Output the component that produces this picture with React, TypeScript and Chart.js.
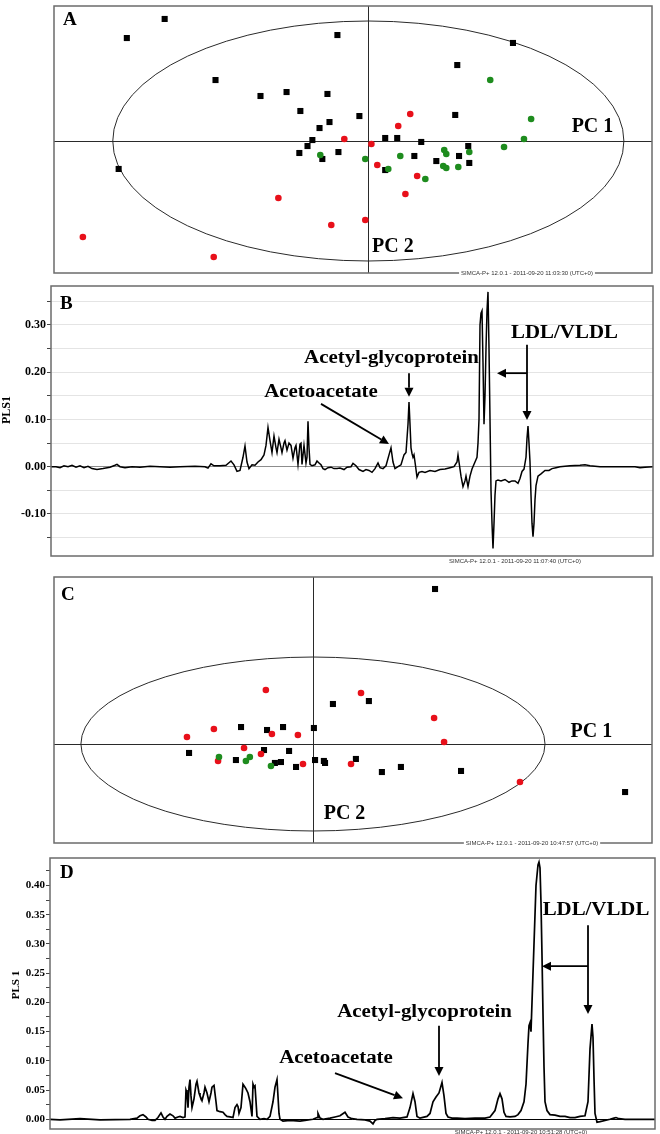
import React, { useEffect, useRef } from "react";
import { Chart, registerables } from "chart.js";

Chart.register(...registerables);

const SERIF = '"Liberation Serif", "Times New Roman", Times, serif';
const SANS = '"Liberation Sans", Arial, sans-serif';

const BLACK = "#000000";
const RED = "#e8101a";
const GREEN = "#1e8c1e";

// ---------------- Panel A : PLS scores t[1] / t[2] ----------------
const A_CLASS_1: [number, number][] = [
  [-7.97, 10.17], [-9.45, 8.58], [-1.21, 8.83], [5.66, 8.17], [3.48, 6.33], [-5.98, 5.08],
  [-4.22, 3.75], [-3.2, 4.08], [-1.6, 3.92], [-2.66, 2.5], [-1.52, 1.58], [-0.35, 2.08],
  [3.4, 2.17], [-1.91, 1.08], [-2.19, 0.08], [-2.38, -0.42], [-2.7, -1.0], [-1.8, -1.5],
  [0.66, 0.25], [1.13, 0.25], [2.07, -0.08], [-1.17, -0.92], [3.91, -0.42], [1.8, -1.25],
  [3.55, -1.25], [2.66, -1.67], [3.95, -1.83], [0.66, -2.42], [-9.77, -2.33],
];
const A_CLASS_2: [number, number][] = [
  [1.64, 2.25], [1.17, 1.25], [-0.94, 0.17], [0.12, -0.25], [0.35, -2.0], [1.91, -2.92],
  [1.45, -4.42], [-0.12, -6.58], [-1.45, -7.0], [-3.52, -4.75], [-11.17, -8.0], [-6.05, -9.67],
];
const A_CLASS_3: [number, number][] = [
  [4.77, 5.08], [6.37, 1.83], [6.09, 0.17], [5.31, -0.5], [2.97, -0.75], [3.05, -1.08],
  [3.95, -0.92], [1.25, -1.25], [-0.12, -1.5], [-1.88, -1.17], [0.78, -2.33], [2.23, -3.17],
  [2.93, -2.08], [3.05, -2.25], [3.52, -2.17],
];
const A_T1_RANGE = [-12.3, 11.1];
const A_T2_RANGE = [-11, 11.25];
const A_ELLIPSE = [10, 10];
const A_PC1_POS = [8.77, 1.17];
const A_PC2_POS = [0.96, -8.83];
const A_STAMP = "SIMCA-P+ 12.0.1 - 2011-09-20 11:03:30 (UTC+0)";

// ---------------- Panel B : PLS1 loadings (ppm) ----------------
const B_PPM = [
  5.61, 5.56, 5.52, 5.48, 5.44, 5.4, 5.36, 5.32, 5.28, 5.24, 5.2, 5.15, 5.09, 5.02, 4.97, 4.95,
  4.92, 4.87, 4.8, 4.72, 4.62, 4.52, 4.42, 4.32, 4.17, 4.07, 4.04, 4.01, 3.98, 3.92, 3.86, 3.81,
  3.78, 3.75, 3.72, 3.69, 3.67, 3.65, 3.63, 3.6, 3.57, 3.54, 3.51, 3.48, 3.46, 3.44, 3.42, 3.4,
  3.38, 3.36, 3.35, 3.33, 3.31, 3.3, 3.28, 3.27, 3.25, 3.23, 3.21, 3.19, 3.17, 3.16, 3.14, 3.12,
  3.11, 3.1, 3.08, 3.06, 3.05, 3.04, 3.03, 3.02, 3.0, 2.97, 2.95, 2.93, 2.91, 2.89, 2.87, 2.84,
  2.81, 2.78, 2.75, 2.72, 2.68, 2.65, 2.61, 2.59, 2.56, 2.53, 2.49, 2.46, 2.43, 2.4, 2.37, 2.34,
  2.32, 2.29, 2.26, 2.23, 2.21, 2.19, 2.17, 2.14, 2.11, 2.08, 2.06, 2.04, 2.03, 2.02, 2.01, 2.0,
  1.99, 1.98, 1.97, 1.95, 1.93, 1.9, 1.87, 1.82, 1.77, 1.72, 1.67, 1.62, 1.58, 1.55, 1.54, 1.53,
  1.51, 1.49, 1.47, 1.46, 1.44, 1.42, 1.4, 1.37, 1.35, 1.34, 1.33, 1.32, 1.31, 1.3, 1.29, 1.28,
  1.27, 1.26, 1.25, 1.24, 1.23, 1.22, 1.21, 1.2, 1.19, 1.18, 1.17, 1.16, 1.14, 1.11, 1.07, 1.03,
  1.0, 0.97, 0.94, 0.92, 0.9, 0.88, 0.86, 0.85, 0.84, 0.83, 0.82, 0.81, 0.8, 0.79, 0.78, 0.77,
  0.76, 0.74, 0.71, 0.67, 0.63, 0.6, 0.56, 0.52, 0.42, 0.32, 0.27, 0.22, 0.12, -0.08, -0.23, -0.28,
  -0.33, -0.41,
];
const B_PLS1 = [
  0.0, 0.0, -0.002, 0.002, 0.0, 0.003, -0.001, 0.002, -0.002, 0.001, -0.004, -0.006, -0.004, -0.001, 0.003, 0.005,
  0.0, -0.002, 0.0, -0.001, 0.001, 0.0, -0.001, 0.0, 0.001, 0.0, -0.003, 0.006, 0.002, 0.002, 0.003, 0.012,
  0.004, -0.01, -0.008, 0.02, 0.044, 0.01, -0.004, 0.004, 0.003, 0.01, 0.015, 0.025, 0.045, 0.083, 0.055, 0.03,
  0.065, 0.04, 0.03, 0.058, 0.04, 0.03, 0.05, 0.055, 0.035, 0.05, 0.045, 0.018, 0.04, 0.045, 0.005, 0.048,
  0.05, 0.005, 0.045, 0.008, 0.02, 0.096, 0.04, 0.005, 0.002, 0.004, 0.012, 0.008, 0.004, -0.004, -0.006, -0.002,
  -0.001, -0.004, -0.004, -0.003, -0.006, -0.001, 0.0, 0.007, 0.002, -0.006, -0.01, -0.006, -0.008, -0.012, -0.004, 0.008,
  -0.002, -0.004, 0.002, 0.025, 0.04, 0.01, -0.004, 0.0, 0.004, 0.025, 0.03, 0.09, 0.137, 0.09, 0.04, 0.028,
  0.02, 0.025, 0.01, -0.022, -0.012, -0.01, -0.012, -0.008, -0.01, -0.006, -0.005, -0.002, 0.0, 0.01, 0.025, 0.01,
  -0.02, -0.042, -0.03, -0.02, -0.042, -0.02, -0.005, 0.01, 0.02, 0.05, 0.1, 0.3, 0.325, 0.33, 0.22, 0.09,
  0.15, 0.25, 0.33, 0.37, 0.25, 0.1, -0.05, -0.12, -0.173, -0.12, -0.06, -0.03, -0.028, -0.03, -0.027, -0.033,
  -0.03, -0.03, -0.035, -0.025, -0.01, -0.005, 0.02, 0.06, 0.086, 0.05, 0.01, -0.06, -0.12, -0.148, -0.12, -0.07,
  -0.04, -0.02, -0.015, -0.008, -0.008, -0.004, -0.002, 0.0, 0.002, 0.003, 0.004, 0.002, 0.0, 0.0, 0.0, -0.002,
  -0.001, 0.0,
];
const B_PPM_RANGE = [-0.41, 5.61];
const B_Y_RANGE = [-0.189, 0.3825];
const B_LABELS: { text: string; x: number; y: number }[] = [
  { text: "Acetyl-glycoprotein", x: 2.205, y: 0.23 },
  { text: "Acetoacetate", x: 2.91, y: 0.158 },
  { text: "LDL/VLDL", x: 0.475, y: 0.283 },
];
const B_ARROWS: number[][] = [
  [2.91, 0.133, 2.23, 0.048],
  [2.03, 0.198, 2.03, 0.148],
  [0.85, 0.258, 0.85, 0.099],
  [0.85, 0.198, 1.15, 0.198],
];
const B_STAMP = "SIMCA-P+ 12.0.1 - 2011-09-20 11:07:40 (UTC+0)";

// ---------------- Panel C : PLS scores t[1] / t[2] ----------------
const C_CLASS_1: [number, number][] = [
  [-3.1, 1.95], [-1.98, 1.61], [-1.29, 1.95], [0.04, 1.84], [-5.34, -1.03], [-3.32, -1.84],
  [-2.11, -0.69], [-1.03, -0.8], [-1.64, -2.18], [-1.38, -2.07], [-0.73, -2.64], [0.09, -1.84],
  [0.47, -1.95], [0.52, -2.18], [5.26, 17.82], [0.86, 4.6], [2.41, 4.94], [1.85, -1.72],
  [2.97, -3.22], [3.79, -2.64], [6.38, -3.1], [13.45, -5.52],
];
const C_CLASS_2: [number, number][] = [
  [-2.03, 6.21], [-4.27, 1.72], [-5.43, 0.8], [-1.77, 1.15], [-0.65, 1.03], [-2.97, -0.46],
  [-2.24, -1.15], [-4.09, -1.95], [-0.43, -2.3], [2.07, 5.86], [5.22, 2.99], [5.65, 0.23],
  [1.64, -2.3], [8.92, -4.37],
];
const C_CLASS_3: [number, number][] = [
  [-4.05, -1.49], [-2.89, -1.95], [-2.72, -1.49], [-1.81, -2.53],
];
const C_T1_RANGE = [-11.16, 14.61];
const C_T2_RANGE = [-11.38, 19.2];
const C_ELLIPSE = [10, 10];
const C_PC1_POS = [12.0, 1.38];
const C_PC2_POS = [1.36, -8.05];
const C_STAMP = "SIMCA-P+ 12.0.1 - 2011-09-20 10:47:57 (UTC+0)";

// ---------------- Panel D : PLS1 loadings (ppm) ----------------
const D_PPM = [
  5.176, 5.096, 4.936, 4.776, 4.536, 4.48, 4.456, 4.432, 4.408, 4.392, 4.36, 4.336, 4.312, 4.288, 4.272, 4.256,
  4.24, 4.216, 4.192, 4.176, 4.152, 4.136, 4.112, 4.096, 4.088, 4.08, 4.072, 4.064, 4.056, 4.048, 4.04, 4.024,
  4.008, 4.0, 3.984, 3.976, 3.96, 3.944, 3.936, 3.92, 3.904, 3.888, 3.88, 3.864, 3.848, 3.84, 3.816, 3.792,
  3.776, 3.76, 3.736, 3.712, 3.696, 3.68, 3.672, 3.664, 3.648, 3.632, 3.616, 3.608, 3.592, 3.576, 3.56, 3.552,
  3.544, 3.536, 3.52, 3.496, 3.464, 3.44, 3.416, 3.392, 3.376, 3.36, 3.344, 3.336, 3.312, 3.256, 3.176, 3.136,
  3.072, 3.04, 3.032, 3.016, 2.992, 2.936, 2.896, 2.856, 2.816, 2.792, 2.76, 2.72, 2.656, 2.616, 2.592, 2.576,
  2.56, 2.496, 2.432, 2.376, 2.32, 2.296, 2.272, 2.256, 2.24, 2.216, 2.16, 2.136, 2.112, 2.088, 2.064, 2.04,
  2.024, 2.008, 1.992, 1.96, 1.92, 1.856, 1.776, 1.696, 1.656, 1.616, 1.592, 1.576, 1.56, 1.544, 1.528, 1.496,
  1.456, 1.432, 1.408, 1.384, 1.368, 1.352, 1.344, 1.336, 1.328, 1.32, 1.304, 1.288, 1.272, 1.264, 1.256, 1.248,
  1.24, 1.232, 1.224, 1.216, 1.2, 1.176, 1.136, 1.096, 1.056, 1.016, 0.976, 0.936, 0.896, 0.872, 0.856, 0.84,
  0.832, 0.824, 0.816, 0.8, 0.776, 0.736, 0.696, 0.664, 0.648, 0.624, 0.576, 0.456, 0.336,
];
const D_PLS1 = [
  0.0, -0.001, 0.001, -0.001, 0.0, 0.002, 0.006, 0.008, 0.004, 0.0, -0.002, -0.002, 0.003, 0.011, 0.004, 0.0,
  0.005, 0.009, 0.006, 0.002, 0.004, 0.005, 0.003, 0.004, 0.05, 0.045, 0.02, 0.055, 0.068, 0.04, 0.02, 0.035,
  0.06, 0.065, 0.045, 0.04, 0.032, 0.045, 0.055, 0.045, 0.03, 0.045, 0.055, 0.058, 0.03, 0.015, 0.013, 0.012,
  0.008, 0.005, 0.004, 0.003, 0.02, 0.025, 0.022, 0.01, 0.02, 0.06, 0.055, 0.052, 0.045, 0.03, 0.005, 0.06,
  0.055, 0.057, 0.005, 0.0, 0.001, 0.0, 0.005, 0.03, 0.055, 0.068, 0.01, 0.0, -0.003, -0.002, -0.003, -0.002,
  0.0, 0.003, 0.01, 0.002, 0.0, 0.002, 0.004, 0.006, 0.012, 0.004, 0.001, 0.0, -0.001, -0.003, -0.008, -0.002,
  0.0, 0.001, 0.003, 0.002, 0.004, 0.02, 0.044, 0.03, 0.005, 0.002, 0.005, 0.01, 0.03, 0.038, 0.045, 0.063,
  0.04, 0.01, 0.004, 0.002, 0.002, 0.001, 0.002, 0.002, 0.004, 0.015, 0.035, 0.044, 0.035, 0.012, 0.005, 0.004,
  0.005, 0.008, 0.015, 0.03, 0.06, 0.13, 0.16, 0.165, 0.15, 0.2, 0.3, 0.4, 0.435, 0.44, 0.43, 0.37,
  0.28, 0.18, 0.09, 0.03, 0.015, 0.008, 0.007, 0.005, 0.005, 0.003, 0.003, 0.005, 0.006, 0.03, 0.12, 0.163,
  0.14, 0.07, 0.01, -0.005, -0.004, -0.002, 0.0, 0.002, 0.003, 0.001, 0.0, 0.0, 0.0,
];
const D_PPM_RANGE = [0.336, 5.176];
const D_Y_RANGE = [-0.0166, 0.447];
const D_LABELS: { text: string; x: number; y: number }[] = [
  { text: "LDL/VLDL", x: 0.808, y: 0.358 },
  { text: "Acetyl-glycoprotein", x: 2.18, y: 0.1835 },
  { text: "Acetoacetate", x: 2.888, y: 0.105 },
];
const D_ARROWS: number[][] = [
  [2.896, 0.079, 2.352, 0.036],
  [2.064, 0.16, 2.064, 0.074],
  [0.872, 0.332, 0.872, 0.18],
  [0.872, 0.262, 1.24, 0.262],
];
const D_STAMP = "SIMCA-P+ 12.0.1 - 2011-09-20 10:51:28 (UTC+0)";

// ---------------- drawing helpers ----------------
function drawFrame(ctx: CanvasRenderingContext2D, ca: any) {
  ctx.save();
  ctx.strokeStyle = "#6b6b6b";
  ctx.lineWidth = 1.5;
  ctx.strokeRect(ca.left, ca.top, ca.right - ca.left, ca.bottom - ca.top);
  ctx.restore();
}

function drawStamp(ctx: CanvasRenderingContext2D, text: string, x: number, y: number, knockout: boolean) {
  ctx.save();
  ctx.font = `6px ${SANS}`;
  const w = ctx.measureText(text).width;
  if (knockout) {
    ctx.fillStyle = "#ffffff";
    ctx.fillRect(x - w / 2 - 2, y - 3, w + 4, 6);
  }
  ctx.fillStyle = "#333333";
  ctx.textAlign = "center";
  ctx.textBaseline = "middle";
  ctx.fillText(text, x, y);
  ctx.restore();
}

function drawLetter(ctx: CanvasRenderingContext2D, letter: string, x: number, y: number) {
  ctx.save();
  ctx.font = `bold 19px ${SERIF}`;
  ctx.fillStyle = "#000";
  ctx.textAlign = "left";
  ctx.textBaseline = "middle";
  ctx.fillText(letter, x, y);
  ctx.restore();
}

function drawArrow(ctx: CanvasRenderingContext2D, x1: number, y1: number, x2: number, y2: number) {
  const head = 9;
  const half = 4.5;
  const ang = Math.atan2(y2 - y1, x2 - x1);
  const bx = x2 - head * Math.cos(ang);
  const by = y2 - head * Math.sin(ang);
  ctx.beginPath();
  ctx.moveTo(x1, y1);
  ctx.lineTo(bx, by);
  ctx.stroke();
  ctx.beginPath();
  ctx.moveTo(x2, y2);
  ctx.lineTo(bx + half * Math.sin(ang), by - half * Math.cos(ang));
  ctx.lineTo(bx - half * Math.sin(ang), by + half * Math.cos(ang));
  ctx.closePath();
  ctx.fill();
}

function scoreDecor(o: {
  letter: string; letterOff: number[]; ellipse: number[]; pc1: number[]; pc2: number[];
  stamp: string; stampOff: number;
}) {
  return {
    id: "scoreDecor",
    beforeDatasetsDraw(chart: any) {
      const { ctx, chartArea: ca, scales } = chart;
      const sx = scales.x, sy = scales.y;
      const cx = sx.getPixelForValue(0), cy = sy.getPixelForValue(0);
      ctx.save();
      ctx.strokeStyle = "#2a2a2a";
      ctx.lineWidth = 1;
      ctx.beginPath();
      ctx.moveTo(ca.left, Math.round(cy) + 0.5);
      ctx.lineTo(ca.right, Math.round(cy) + 0.5);
      ctx.moveTo(Math.round(cx) + 0.5, ca.top);
      ctx.lineTo(Math.round(cx) + 0.5, ca.bottom);
      ctx.stroke();
      const rx = sx.getPixelForValue(o.ellipse[0]) - cx;
      const ry = cy - sy.getPixelForValue(o.ellipse[1]);
      ctx.beginPath();
      ctx.ellipse(cx, cy, rx, ry, 0, 0, Math.PI * 2);
      ctx.stroke();
      ctx.restore();
    },
    afterDraw(chart: any) {
      const { ctx, chartArea: ca, scales } = chart;
      const sx = scales.x, sy = scales.y;
      drawFrame(ctx, ca);
      drawLetter(ctx, o.letter, ca.left + o.letterOff[0], ca.top + o.letterOff[1]);
      ctx.save();
      ctx.font = `bold 20px ${SERIF}`;
      ctx.fillStyle = "#000";
      ctx.textAlign = "center";
      ctx.textBaseline = "middle";
      ctx.fillText("PC 1", sx.getPixelForValue(o.pc1[0]), sy.getPixelForValue(o.pc1[1]));
      ctx.fillText("PC 2", sx.getPixelForValue(o.pc2[0]), sy.getPixelForValue(o.pc2[1]));
      ctx.restore();
      drawStamp(ctx, o.stamp, ca.right - o.stampOff, ca.bottom, true);
    },
  };
}

function loadingDecor(o: {
  letter: string; letterOff: number[]; title: string; titlePos: number[]; titleSize: number;
  labels: { text: string; x: number; y: number }[]; arrows: number[][];
  fontSize: number; stretch: number; stamp: string; stampOff: number[];
}) {
  return {
    id: "loadingDecor",
    afterDraw(chart: any) {
      const { ctx, chartArea: ca, scales } = chart;
      const sx = scales.x, sy = scales.y;
      drawFrame(ctx, ca);
      drawLetter(ctx, o.letter, ca.left + o.letterOff[0], ca.top + o.letterOff[1]);
      // axis title
      ctx.save();
      ctx.translate(o.titlePos[0], o.titlePos[1]);
      ctx.rotate(-Math.PI / 2);
      ctx.font = `bold ${o.titleSize}px ${SERIF}`;
      ctx.fillStyle = "#000";
      ctx.textAlign = "center";
      ctx.textBaseline = "middle";
      ctx.fillText(o.title, 0, 0);
      ctx.restore();
      // annotation labels
      for (const l of o.labels) {
        ctx.save();
        ctx.translate(sx.getPixelForValue(l.x), sy.getPixelForValue(l.y));
        ctx.scale(o.stretch, 1);
        ctx.font = `bold ${o.fontSize}px ${SERIF}`;
        ctx.fillStyle = "#000";
        ctx.textAlign = "center";
        ctx.textBaseline = "middle";
        ctx.fillText(l.text, 0, 0);
        ctx.restore();
      }
      ctx.save();
      ctx.strokeStyle = "#000";
      ctx.fillStyle = "#000";
      ctx.lineWidth = 1.8;
      for (const a of o.arrows) {
        drawArrow(ctx, sx.getPixelForValue(a[0]), sy.getPixelForValue(a[1]), sx.getPixelForValue(a[2]), sy.getPixelForValue(a[3]));
      }
      ctx.restore();
      drawStamp(ctx, o.stamp, ca.right - o.stampOff[0], ca.bottom + o.stampOff[1], false);
    },
  };
}

function scoreConfig(
  c1: [number, number][], c2: [number, number][], c3: [number, number][],
  xr: number[], yr: number[], pad: any, decor: any
): any {
  const pts = (arr: [number, number][]) => arr.map(([x, y]) => ({ x, y }));
  return {
    type: "scatter",
    data: {
      datasets: [
        { label: "Class 3", data: pts(c3), pointStyle: "circle", pointRadius: 3.3, backgroundColor: GREEN, borderWidth: 0 },
        { label: "Class 2", data: pts(c2), pointStyle: "circle", pointRadius: 3.3, backgroundColor: RED, borderWidth: 0 },
        { label: "Class 1", data: pts(c1), pointStyle: "rect", pointRadius: 4.3, backgroundColor: BLACK, borderWidth: 0 },
      ],
    },
    options: {
      animation: false,
      responsive: false,
      devicePixelRatio: 1,
      layout: { padding: pad },
      plugins: { legend: { display: false }, tooltip: { enabled: false } },
      scales: {
        x: { type: "linear", min: xr[0], max: xr[1], display: false },
        y: { type: "linear", min: yr[0], max: yr[1], display: false },
      },
    },
    plugins: [decor],
  };
}

function loadingConfig(
  ppm: number[], vals: number[], xr: number[], yr: number[], step: number, labelEvery: number,
  axisWidth: number, tickFont: number, zeroColor: string, gridColor: string, lineW: number, pad: any, decor: any
): any {
  return {
    type: "line",
    data: {
      datasets: [
        {
          label: "PLS1",
          data: ppm.map((p, i) => ({ x: p, y: vals[i] })),
          borderColor: "#000",
          borderWidth: lineW,
          pointRadius: 0,
          tension: 0,
          fill: false,
        },
      ],
    },
    options: {
      animation: false,
      responsive: false,
      devicePixelRatio: 1,
      layout: { padding: pad },
      plugins: { legend: { display: false }, tooltip: { enabled: false } },
      scales: {
        x: { type: "linear", reverse: true, min: xr[0], max: xr[1], display: false },
        y: {
          type: "linear",
          min: yr[0],
          max: yr[1],
          afterFit: (s: any) => {
            s.width = axisWidth;
            s.paddingTop = 0;
            s.paddingBottom = 0;
          },
          border: { display: false },
          grid: {
            color: (c: any) => (c.tick && Math.abs(c.tick.value) < 1e-9 ? zeroColor : gridColor),
            tickColor: "#444",
            tickLength: 4,
            lineWidth: 1,
          },
          ticks: {
            stepSize: step,
            includeBounds: false,
            autoSkip: false,
            padding: 1,
            color: "#000",
            font: { family: SERIF, size: tickFont, weight: "bold" },
            callback: (v: number) => {
              const r = v / labelEvery;
              return Math.abs(r - Math.round(r)) < 1e-6 ? (Math.abs(v) < 1e-9 ? 0 : v).toFixed(2) : "";
            },
          },
        },
      },
    },
    plugins: [decor],
  };
}

function Panel({ top, height, make }: { top: number; height: number; make: () => any }) {
  const ref = useRef<HTMLCanvasElement | null>(null);
  useEffect(() => {
    if (!ref.current) return;
    const chart = new Chart(ref.current, make());
    return () => chart.destroy();
  }, []);
  return (
    <canvas
      ref={ref}
      width={660}
      height={height}
      style={{ position: "absolute", left: 0, top, width: 660, height, display: "block" }}
    />
  );
}

export default function App() {
  return (
    <div style={{ position: "absolute", left: 0, top: 0, width: 660, height: 1134, background: "#fff", overflow: "hidden" }}>
      <Panel
        top={0}
        height={280}
        make={() =>
          scoreConfig(A_CLASS_1, A_CLASS_2, A_CLASS_3, A_T1_RANGE, A_T2_RANGE,
            { left: 54, right: 8, top: 6, bottom: 7 },
            scoreDecor({ letter: "A", letterOff: [9, 14], ellipse: A_ELLIPSE, pc1: A_PC1_POS, pc2: A_PC2_POS, stamp: A_STAMP, stampOff: 125 }))
        }
      />
      <Panel
        top={280}
        height={290}
        make={() =>
          loadingConfig(B_PPM, B_PLS1, B_PPM_RANGE, B_Y_RANGE, 0.05, 0.1, 51, 12, "#8c8c8c", "#e4e4e4", 1.5,
            { left: 0, right: 7, top: 6, bottom: 14 },
            loadingDecor({
              letter: "B", letterOff: [9, 18], title: "PLS1", titlePos: [7, 130], titleSize: 12,
              labels: B_LABELS, arrows: B_ARROWS, fontSize: 19, stretch: 1.1, stamp: B_STAMP, stampOff: [138, 5],
            }))
        }
      />
      <Panel
        top={570}
        height={280}
        make={() =>
          scoreConfig(C_CLASS_1, C_CLASS_2, C_CLASS_3, C_T1_RANGE, C_T2_RANGE,
            { left: 54, right: 8, top: 7, bottom: 7 },
            scoreDecor({ letter: "C", letterOff: [7, 18], ellipse: C_ELLIPSE, pc1: C_PC1_POS, pc2: C_PC2_POS, stamp: C_STAMP, stampOff: 120 }))
        }
      />
      <Panel
        top={850}
        height={284}
        make={() =>
          loadingConfig(D_PPM, D_PLS1, D_PPM_RANGE, D_Y_RANGE, 0.025, 0.05, 50, 11, "#000000", "rgba(0,0,0,0)", 1.7,
            { left: 0, right: 5, top: 8, bottom: 5 },
            loadingDecor({
              letter: "D", letterOff: [10, 15], title: "PLS 1", titlePos: [16, 135], titleSize: 11,
              labels: D_LABELS, arrows: D_ARROWS, fontSize: 18, stretch: 1.16, stamp: D_STAMP, stampOff: [134, 3],
            }))
        }
      />
    </div>
  );
}
